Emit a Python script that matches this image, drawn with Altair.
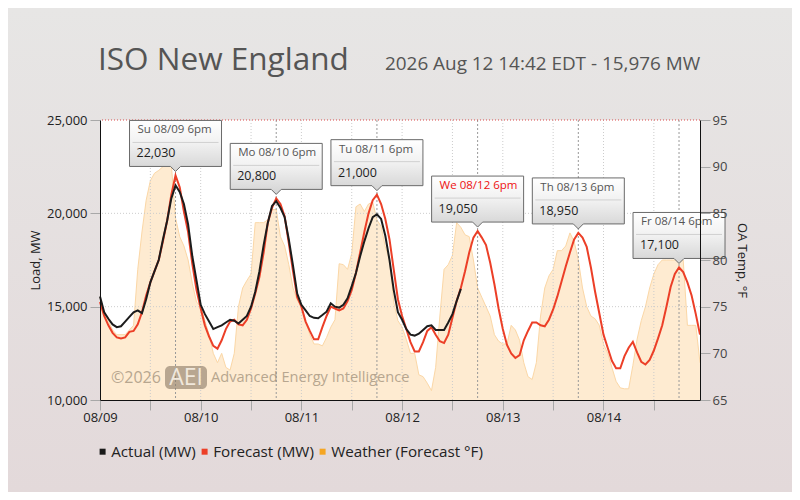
import json
import altair as alt
import pandas as pd

# ---------------- data ----------------
day_labels = ["08/09", "08/10", "08/11", "08/12", "08/13", "08/14"]

forecast_mw = [
    15250, 14500, 14000, 13600, 13350, 13300, 13350, 13650, 13700, 14050, 14700, 15600,
    16300, 16900, 17500, 18500, 19600, 21000, 22030, 21400, 20100, 19000, 17300, 15900,
    14900, 14000, 13400, 12900, 12750, 13200, 13800, 14200, 14300, 14050, 14000, 14300,
    14900, 15700, 16600, 17900, 19500, 20300, 20800, 20500, 19850, 18400, 16900, 15500,
    15000, 14200, 13700, 13250, 13250, 13900, 14500, 15000, 14900, 14800, 14900, 15300,
    15900, 16800, 17900, 19000, 20000, 20700, 21000, 20500, 19700, 18600, 17000, 15400,
    14500, 13800, 13100, 12600, 12600, 13100, 13700, 13900, 13500, 13150, 13050, 13500,
    14400, 15300, 16000, 16900, 17900, 18700, 19050, 18700, 18300, 17350, 16200, 14900,
    13800, 12950, 12500, 12250, 12400, 13200, 13700, 14150, 14150, 14000, 13950, 14300,
    14850, 15550, 16350, 17150, 17900, 18600, 18950, 18700, 18200, 17100, 15800, 14650,
    13500, 12800, 12100, 11700, 11700, 12350, 12800, 13120, 12550, 12050, 11900, 12150,
    12650, 13300, 14000, 15000, 16050, 16750, 17100, 16850, 16300, 15600, 14600, 13500,
]

actual_mw = [
    15550, 14700, 14350, 14050, 13900, 13950, 14200, 14450, 14700, 14800, 14650, 15400,
    16300, 16900, 17500, 18600, 19600, 20800, 21500, 21150, 20500, 19400, 17700, 16400,
    15100, 14600, 14200, 13800, 13900, 14000, 14150, 14300, 14250, 14100, 14300, 14500,
    15000, 15800, 16900, 18300, 19500, 20400, 20650, 20300, 19800, 18600, 17200, 15700,
    15100, 14800, 14500, 14400, 14380, 14550, 14730, 15180, 15000, 14950, 15100, 15450,
    16100, 16800, 17700, 18500, 19200, 19800, 19950, 19700, 18800, 17500, 15900, 14700,
    14300, 13800, 13500, 13450, 13550, 13750, 13950, 14000, 13750, 13750, 13750, 14150,
    14600, 15300, 15950,
]

weather_f = [
    76, 74.5, 73.5, 72.5, 72, 72, 72, 72.5, 73, 79, 83, 86.4,
    88.5, 89.3, 89.6, 90, 90.2, 90.2, 84.5, 82.5, 81.5, 80, 77.5, 75.5,
    75, 73.5, 72, 70, 69, 70, 68.5, 68.2, 70, 75, 77, 77.8,
    78.5, 84, 84, 84, 84.3, 85.4, 85.4, 82.5, 81.5, 79.5, 77, 75.7,
    75, 73.5, 72, 71, 71, 70.8, 71.7, 72.8, 73.6, 79.6, 79.5, 79,
    80.7, 85.7, 86, 85.2, 86, 86.2, 84.3, 83.6, 81.4, 80, 75.5, 73.5,
    72.8, 71.5, 70, 70, 67.7, 67.5, 66.8, 66, 68.5, 74, 79, 79.5,
    80.5, 84, 83.5, 82.7, 82.5, 80, 77, 76, 75, 74, 72, 71.3,
    71, 71, 73, 72.5, 71.4, 69, 67.5, 67.2, 69, 74, 77, 78.3,
    79, 81, 81, 81.5, 82.9, 82, 80, 77, 75, 74, 73.7, 73,
    71, 70, 68.5, 67, 66.3, 66.2, 66.2, 68.7, 71.5, 73.5, 75, 77,
    78.5, 79.5, 80, 80, 80, 80, 80, 80, 73, 73, 73, 69,
]

peak_labels = ["Su 08/09 6pm", "Mo 08/10 6pm", "Tu 08/11 6pm",
               "We 08/12 6pm", "Th 08/13 6pm", "Fr 08/14 6pm"]
peak_hours = [18, 42, 66, 90, 114, 138]
peak_mw = [22030, 20800, 21000, 19050, 18950, 17100]
current_label = "We 08/12 6pm"

grid_hours = list(range(12, 144, 12))
grid_mw = [15000, 20000]
top_mw = [25000]
x_ticks = list(range(0, 144, 12))
load_ticks = [10000, 15000, 20000, 25000]
temp_ticks = [65, 70, 75, 80, 85, 90, 95]
series_names = ["Actual (MW)", "Forecast (MW)", "Weather (Forecast °F)"]
series_colors = ["#1a1a1a", "#ec3f27", "#f5a623"]

title_text = "ISO New England"
subtitle_text = "2026 Aug 12 14:42 EDT - 15,976 MW"

# ---------------- tables ----------------
fc_df = pd.DataFrame({"hour": list(range(len(forecast_mw))), "load": forecast_mw})
ac_df = pd.DataFrame({"hour": list(range(len(actual_mw))), "load": actual_mw})
wx_df = pd.DataFrame({"hour": list(range(len(weather_f))), "temp": weather_f})
peaks_df = pd.DataFrame({"hour": peak_hours, "load": peak_mw, "label": peak_labels})
vgrid_df = pd.DataFrame({"hour": grid_hours})
six_df = pd.DataFrame({"hour": peak_hours})
hgrid_df = pd.DataFrame({"load": grid_mw})
top_df = pd.DataFrame({"load": top_mw})
legend_df = pd.DataFrame({"series": series_names})
one = pd.DataFrame({"a": [0]})

FONT = "Open Sans"

# ---------------- scales / axes ----------------
x_scale = alt.Scale(domain=[0, 143], nice=False, zero=False)
label_expr = "datum.value % 24 === 0 ? " + json.dumps(day_labels) + "[datum.value / 24] : ''"
x_axis = alt.Axis(values=x_ticks, labelExpr=label_expr, title=None, grid=False,
                  tickSize=10, tickColor="#a8a8a8", domainColor="#111111",
                  labelFontSize=13, labelColor="#222222", labelPadding=1,
                  labelFont=FONT, labelFlush=False, labelOverlap=False, zindex=1)
X = alt.X("hour:Q", scale=x_scale, axis=x_axis)

load_scale = alt.Scale(domain=[10000, 25000], nice=False, zero=False)
load_axis = alt.Axis(values=load_ticks, labelExpr="format(datum.value, ',')", orient="left",
                     title="Load, MW",
                     grid=False, tickSize=10, tickColor="#a8a8a8", domainColor="#111111",
                     labelFontSize=13, labelColor="#222222", labelPadding=3, labelFont=FONT,
                     titleFont=FONT, titleFontSize=13, titleFontWeight="normal",
                     titleColor="#222222", titlePadding=4, zindex=1)
YL = alt.Y("load:Q", scale=load_scale, axis=load_axis)

temp_scale = alt.Scale(domain=[65, 95], nice=False, zero=False)
temp_axis = alt.Axis(values=temp_ticks, orient="right", title="OA Temp, °F",
                     grid=False, tickSize=10, tickColor="#a8a8a8", domainColor="#111111",
                     labelFontSize=13, labelColor="#444444", labelPadding=2, labelFont=FONT,
                     titleFont=FONT, titleFontSize=13, titleFontWeight="normal",
                     titleColor="#222222", titlePadding=8, titleAngle=90, zindex=1)

bg_grad = alt.LinearGradient(gradient="linear", x1=0, y1=0, x2=0, y2=1,
                             stops=[alt.GradientStop(color="#e7e6e5", offset=0),
                                    alt.GradientStop(color="#e3d9da", offset=1)])
box_grad = alt.LinearGradient(gradient="linear", x1=0, y1=0, x2=0, y2=1,
                              stops=[alt.GradientStop(color="#ffffff", offset=0),
                                     alt.GradientStop(color="#f1f1f1", offset=0.45),
                                     alt.GradientStop(color="#d3d3d3", offset=1)])

# ---------------- temperature group ----------------
bg = alt.Chart(one).mark_rect(fill=bg_grad).encode(
    x=alt.value(-92), x2=alt.value(692), y=alt.value(-112), y2=alt.value(372))
plot_bg = alt.Chart(one).mark_rect(fill="white").encode(
    x=alt.value(0), x2=alt.value(600), y=alt.value(0), y2=alt.value(280))
area = alt.Chart(wx_df).mark_area(color="#fee2bd", interpolate="linear",
                                  line={"color": "#fbd7a6", "strokeWidth": 1}).encode(
    x=X, y=alt.Y("temp:Q", scale=temp_scale, axis=temp_axis), y2=alt.datum(65))
temp_group = alt.layer(bg, plot_bg, area)

# ---------------- load group ----------------
vgrid = alt.Chart(vgrid_df).mark_rule(color="#cccccc", strokeDash=[1, 2], strokeWidth=1).encode(x=X)
hgrid = alt.Chart(hgrid_df).mark_rule(color="#cccccc", strokeDash=[1, 2], strokeWidth=1).encode(y=YL)
six = alt.Chart(six_df).mark_rule(color="#999999", strokeDash=[2, 2], strokeWidth=1).encode(x=X)
top = alt.Chart(top_df).mark_rule(color="#d94848", strokeDash=[1, 2], strokeWidth=1).encode(y=YL)

fc_line = alt.Chart(fc_df).mark_line(color="#ec3f27", strokeWidth=2).encode(x=X, y=YL)
ac_line = alt.Chart(ac_df).mark_line(color="#1c1c1c", strokeWidth=2).encode(x=X, y=YL)

legend_layer = alt.Chart(legend_df).mark_square(opacity=0, size=1).encode(
    x=alt.value(0), y=alt.value(0),
    color=alt.Color("series:N",
                    scale=alt.Scale(domain=series_names, range=series_colors),
                    legend=alt.Legend(orient="none", legendX=-5, legendY=324, padding=0,
                                      direction="horizontal", title=None,
                                      symbolType="square", symbolSize=36, symbolOpacity=1,
                                      symbolStrokeWidth=0, labelFont=FONT, labelFontSize=15.2,
                                      labelColor="#222222", columnPadding=1, labelOffset=1,
                                      labelLimit=300)))

box_path = "M0,-4 L-5,-9 L-46,-9 L-46,-55 L46,-55 L46,-9 L5,-9 Z"
boxes = alt.Chart(peaks_df).mark_point(shape=box_path, size=4, filled=True, fill=box_grad,
                                       stroke="#6a6a6a", strokeWidth=1, opacity=1).encode(x=X, y=YL)
seps = alt.Chart(peaks_df).mark_point(shape="M-43,-33 L43,-33", size=4, filled=False,
                                      stroke="#d0d0d0", strokeWidth=1, opacity=1).encode(x=X, y=YL)
lbls = alt.Chart(peaks_df).mark_text(align="left", baseline="middle", dx=-38, dy=-45,
                                     font=FONT, fontSize=11.5).encode(
    x=X, y=YL, text="label:N",
    color=alt.condition(alt.datum.label == current_label, alt.value("#ee1111"), alt.value("#555555")))
vals = alt.Chart(peaks_df).mark_text(align="left", baseline="middle", dx=-39, dy=-22,
                                     font=FONT, fontSize=12.5, color="#1e1e1e").encode(
    x=X, y=YL, text=alt.Text("load:Q", format=","))

wm_color = "#8c7c67"
wm1 = alt.Chart(one).mark_text(text="©2026", align="left", baseline="middle", font=FONT,
                               fontSize=16, color=wm_color, opacity=0.62).encode(
    x=alt.value(11), y=alt.value(258))
wm_box = alt.Chart(one).mark_rect(fill=wm_color, opacity=0.62, cornerRadius=5).encode(
    x=alt.value(65), x2=alt.value(107), y=alt.value(246), y2=alt.value(269))
wm_aei = alt.Chart(one).mark_text(text="AEI", align="center", baseline="middle", font=FONT,
                                  fontSize=23, color="#fbf4ea", opacity=0.85).encode(
    x=alt.value(86), y=alt.value(258))
wm2 = alt.Chart(one).mark_text(text="Advanced Energy Intelligence", align="left",
                               baseline="middle", font=FONT, fontSize=14.6, color=wm_color,
                               opacity=0.62).encode(x=alt.value(111), y=alt.value(258))

title = alt.Chart(one).mark_text(text=title_text, align="left", baseline="alphabetic",
                                 font=FONT, fontSize=31.5, color="#555555").encode(
    x=alt.value(-2), y=alt.value(-50))
subtitle = alt.Chart(one).mark_text(text=subtitle_text, align="left", baseline="alphabetic",
                                    font=FONT, fontSize=18.9, color="#555555").encode(
    x=alt.value(285), y=alt.value(-50))

load_group = alt.layer(vgrid, hgrid, six, top, fc_line, ac_line, legend_layer,
                       wm1, wm_box, wm_aei, wm2, boxes, seps, lbls, vals, title, subtitle)

chart = alt.layer(temp_group, load_group).resolve_scale(y="independent").properties(
    width=600, height=280,
    padding={"left": 92, "top": 112, "right": 92, "bottom": 92},
    autosize=alt.AutoSizeParams(type="none"),
    background="#e5e1e0",
).configure(font=FONT).configure_view(stroke=None)

chart.save("out.html", embed_options={"renderer": "svg", "actions": False})
